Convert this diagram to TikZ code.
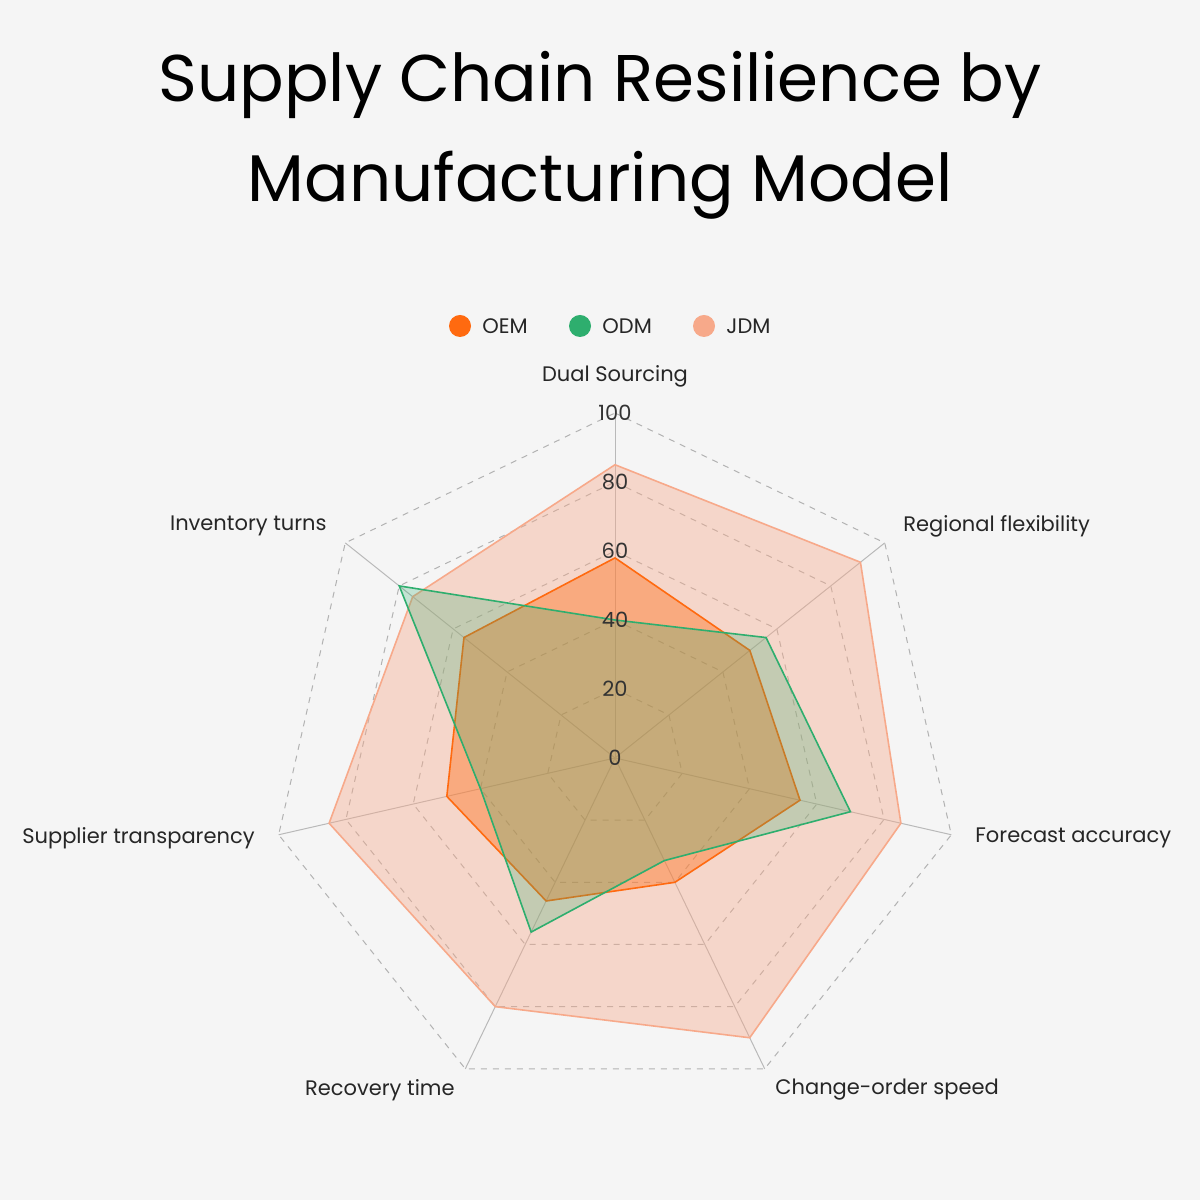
\documentclass[tikz,border=0pt]{standalone}
\usepackage{fontspec}
\setmainfont{Poppins}
\usetikzlibrary{calc}
\begin{document}
\begin{tikzpicture}[x=0.5pt,y=0.5pt,
  grid/.style={draw=gray!60,dashed,line width=0.5pt},
  spoke/.style={draw=gray!55,line width=0.5pt},
  lab/.style={font=\fontsize{10.5}{12}\selectfont,text=black!85,inner sep=0pt},
  tick/.style={font=\fontsize{10.5}{12}\selectfont,text=black!80,inner sep=0pt}]
\definecolor{bg}{HTML}{F5F5F5}
\definecolor{oem}{HTML}{FF6A10}
\definecolor{odm}{HTML}{2EAE6E}
\definecolor{jdm}{HTML}{F7A98A}
\fill[bg] (0,0) rectangle (1200,1200);
\useasboundingbox (0,0) rectangle (1200,1200);
\node[font=\fontsize{33}{50}\selectfont,align=center] (title) at (600,1065) {Supply Chain Resilience by\\Manufacturing Model};
\coordinate (c) at (615,442);
\def\R{3.45}
% grid
\foreach \l in {20,40,60,80,100}{
  \draw[grid] ($(c)+(90:\l*\R)$) \foreach \k in {1,...,6}{ -- ($(c)+(90-\k*360/7:\l*\R)$)} -- cycle;
}
\foreach \k in {0,...,6}{ \draw[spoke] (c) -- ($(c)+(90-\k*360/7:100*\R)$); }
% series: first value, then the remaining six
\newcommand{\series}[4]{%
  \path[fill=#1,fill opacity=#2,draw=#1,line width=0.8pt]
  ($(c)+(90:#3*\R)$) \foreach \v [count=\i] in {#4}{ -- ($(c)+(90-\i*360/7:\v*\R)$) } -- cycle;}
\series{jdm}{0.4}{85}{91,85,90,80,85,75}
\series{oem}{0.4}{58}{50,55,40,46,50,56}
\series{odm}{0.25}{40}{56,70,33,56,40,80}
% ticks
\foreach \l in {0,20,40,60,80,100}{ \node[tick] at ($(c)+(0,\l*\R)$) {\l}; }
% labels
\node[lab] (a0) at (615,824) {Dual Sourcing};
\node[lab,anchor=west] (a1) at (903,674) {Regional flexibility};
\node[lab,anchor=west] (a2) at (975,362) {Forecast accuracy};
\node[lab,anchor=west] (a3) at (775,110) {Change-order speed};
\node[lab,anchor=east] (a4) at (455,110) {Recovery time};
\node[lab,anchor=east] (a5) at (255,362) {Supplier transparency};
\node[lab,anchor=east] (a6) at (327,674) {Inventory turns};
% legend
\fill[oem] (460,874) circle (11);
\node[lab,anchor=west] (l1) at (482,874) {OEM};
\fill[odm] (580,874) circle (11);
\node[lab,anchor=west] (l2) at (602,874) {ODM};
\fill[jdm] (704,874) circle (11);
\node[lab,anchor=west] (l3) at (726,874) {JDM};
\end{tikzpicture}
\end{document}
